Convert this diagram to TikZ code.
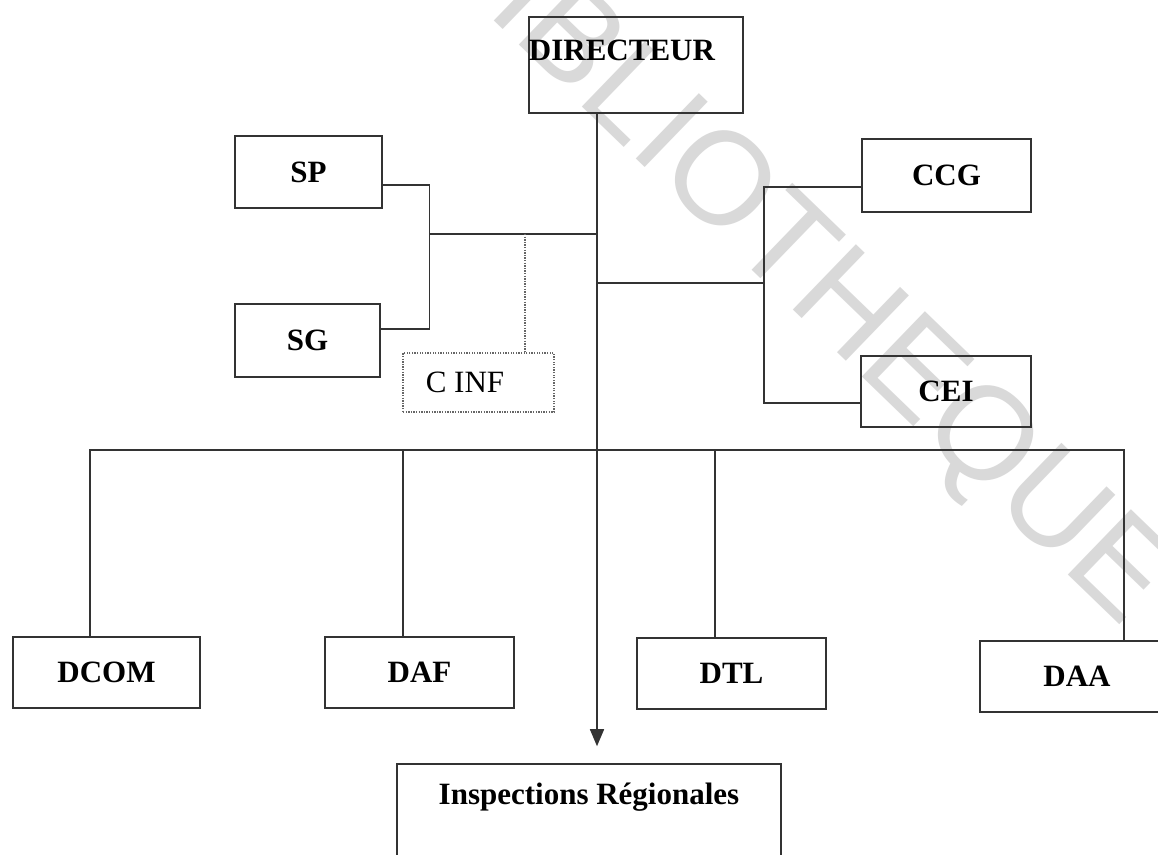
\documentclass[tikz,border=0pt]{standalone}
\usepackage{fontspec}
\setmainfont{Liberation Serif}
\newfontfamily\wmfont{Liberation Sans}
\usetikzlibrary{arrows.meta}
\begin{document}
\begin{tikzpicture}[x=1pt,y=-1pt,
  box/.style={draw=black!80, line width=1.6pt, rectangle, inner sep=0pt,
    font=\fontsize{31}{36}\selectfont\bfseries},
  lbl/.style={inner sep=0pt, font=\fontsize{31}{36}\selectfont\bfseries},
  conn/.style={draw=black!80, line width=1.6pt},
  dotbox/.style={draw=black!60, line width=1.4pt, dash pattern=on 1.3pt off 1.3pt},
  wm/.style={font=\wmfont\fontsize{132}{132}\selectfont, text=black!15, inner sep=0pt},
]
\useasboundingbox (0,0) rectangle (1158,854);
\fill[white] (0,0) rectangle (1158,854);
% watermark
\node[wm, rotate=-44] (wmark) at (796,266) {BIBLIOTHEQUE};
% boxes
\node[box, minimum width=214pt, minimum height=96pt,
  label={[lbl,xshift=-14pt,yshift=15pt]center:DIRECTEUR}] (dir) at (636,65) {};
\node[box, minimum width=147pt, minimum height=72pt] (sp) at (308.5,172) {SP};
\node[box, minimum width=145pt, minimum height=73pt] (sg) at (307.5,340.5) {SG};
\node[dotbox, rectangle, inner sep=0pt, minimum width=151pt, minimum height=59pt,
  label={[inner sep=0pt, font=\fontsize{31}{36}\selectfont, xshift=-13.5pt]center:C INF}] (cinf) at (478.5,382.5) {};
\node[box, minimum width=169pt, minimum height=73pt] (ccg) at (946.5,175.5) {CCG};
\node[box, minimum width=170pt, minimum height=71pt] (cei) at (946,391.5) {CEI};
\node[box, minimum width=187pt, minimum height=71pt] (dcom) at (106.5,672.5) {DCOM};
\node[box, minimum width=189pt, minimum height=71pt] (daf) at (419.5,672.5) {DAF};
\node[box, minimum width=189pt, minimum height=71pt] (dtl) at (731.5,673.5) {DTL};
\node[box, minimum width=194pt, minimum height=71pt] (daa) at (1077,676.5) {DAA};
\node[box, minimum width=384pt, minimum height=116pt,
  label={[lbl,yshift=25pt]center:Inspections R\'egionales}] (insp) at (589,822) {};
% trunk
\coordinate (ttop) at ([xshift=-39pt]dir.south);
\coordinate (lj) at (429,234);
\coordinate (dj) at (525,234);
\coordinate (rj) at (765,283);
\coordinate (bus) at (0,450);
\draw[conn, -{Triangle[length=17pt,width=14pt]}] (ttop) -- ([yshift=17pt]insp.north -| ttop);
% left group
\draw[conn] ([yshift=-13pt]sp.east) -- ++(46.5,0) |- ([yshift=11.5pt]sg.east);
\draw[conn] (lj) -- (lj -| ttop);
\draw[dotbox] (dj) -- (dj |- cinf.north);
% right group
\draw[conn] (rj -| ttop) -- (rj);
\draw[conn] ([yshift=-11.5pt]ccg.west) -- ++(-97,0) |- ([yshift=-11.5pt]cei.west);
% bottom bus
\draw[conn] ([xshift=-16.5pt]dcom.north) |- ([xshift=47pt]daa.north |- bus) -- ([xshift=47pt]daa.north);
\draw[conn] ([xshift=-16.5pt]daf.north) -- ([xshift=-16.5pt]daf.north |- bus);
\draw[conn] ([xshift=-16.5pt]dtl.north) -- ([xshift=-16.5pt]dtl.north |- bus);
\end{tikzpicture}
\end{document}
